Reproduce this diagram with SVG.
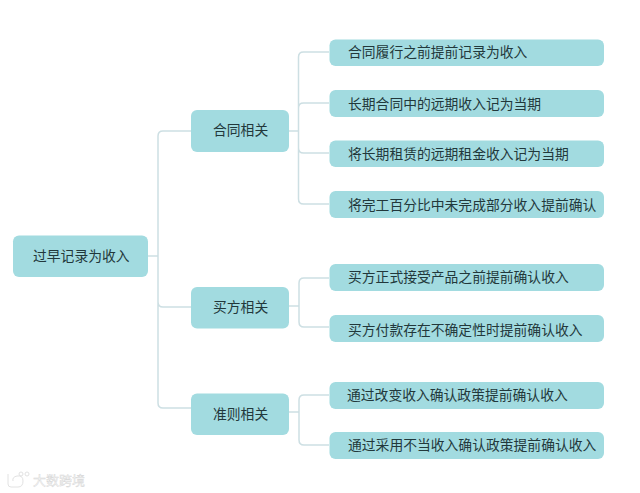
<svg xmlns="http://www.w3.org/2000/svg" width="640" height="493" viewBox="0 0 640 493">
<style>
.n{fill:#a2dbe0}
.t{font-family:"Liberation Sans","Noto Sans CJK SC",sans-serif;font-size:13.8px;fill:#22383b}
.c{fill:none;stroke:#cddfe3;stroke-width:1.5}
.w{font-family:"Liberation Sans","Noto Sans CJK SC",sans-serif;font-size:13px;fill:#f6f6f6;stroke:#d6d6d6;stroke-width:.4}
</style>
<rect width="640" height="493" fill="#fff"/>
<g id="connectors" class="c">
<path d="M148 256H158M191 131H163Q158 131 158 136V403Q158 408 163 408H191M158 302Q158 307 163 307H191"/>
<path d="M289 131H298.500M329 52H303.500Q298.500 52 298.500 57V199Q298.500 204 303.500 204H329M329 103H303.500Q298.500 103 298.500 108M329 153H303.500Q298.500 153 298.500 148"/>
<path d="M289 306H299M329 278H304Q299 278 299 283V322Q299 327 304 327H329"/>
<path d="M289 412H299M329 395H304Q299 395 299 400V440Q299 445 304 445H329"/>
</g>
<g id="root"><rect class="n" x="13" y="235.500" width="135" height="41.500" rx="6"/><text class="t" x="33" y="260.500">过早记录为收入</text></g>
<g id="b1"><rect class="n" x="191" y="110" width="98" height="42" rx="6"/><text class="t" x="213" y="134.500">合同相关</text></g>
<g id="b2"><rect class="n" x="191" y="287" width="98" height="41.500" rx="6"/><text class="t" x="213" y="312">买方相关</text></g>
<g id="b3"><rect class="n" x="191" y="393.500" width="98" height="41.500" rx="6"/><text class="t" x="213" y="419">准则相关</text></g>
<g id="l1"><rect class="n" x="329.500" y="39.500" width="274.500" height="26.500" rx="6"/><text class="t" x="348" y="57">合同履行之前提前记录为收入</text></g>
<g id="l2"><rect class="n" x="329.500" y="90" width="274.500" height="27" rx="6"/><text class="t" x="348" y="109">长期合同中的远期收入记为当期</text></g>
<g id="l3"><rect class="n" x="329.500" y="140.500" width="274.500" height="26.500" rx="6"/><text class="t" x="348" y="159">将长期租赁的远期租金收入记为当期</text></g>
<g id="l4"><rect class="n" x="329.500" y="191" width="274.500" height="27" rx="6"/><text class="t" x="348" y="210">将完工百分比中未完成部分收入提前确认</text></g>
<g id="l5"><rect class="n" x="329.500" y="264" width="274.500" height="27" rx="6"/><text class="t" x="348" y="282">买方正式接受产品之前提前确认收入</text></g>
<g id="l6"><rect class="n" x="329.500" y="315" width="274.500" height="27" rx="6"/><text class="t" x="348" y="335">买方付款存在不确定性时提前确认收入</text></g>
<g id="l7"><rect class="n" x="329.500" y="382" width="274.500" height="27" rx="6"/><text class="t" x="347" y="400">通过改变收入确认政策提前确认收入</text></g>
<g id="l8"><rect class="n" x="329.500" y="432" width="274.500" height="27" rx="6"/><text class="t" x="348" y="450">通过采用不当收入确认政策提前确认收入</text></g>
<g id="watermark" fill="none" stroke="#e2e2e2">
<path d="M8 474V484Q8 487 11 487H18Q23 487 23 481T17 476Q12 477 13 481"/>
<circle cx="21" cy="474" r="2"/><circle cx="27" cy="474" r="2"/>
<text class="w" x="33" y="485">大数跨境</text>
</g>
</svg>
